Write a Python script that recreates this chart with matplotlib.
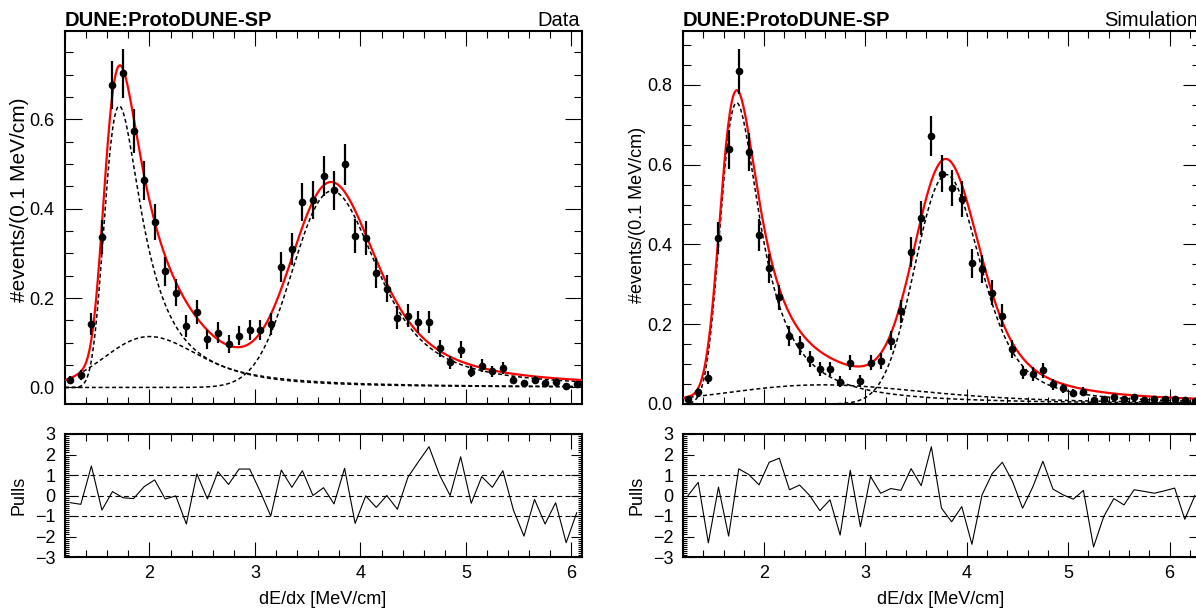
import numpy as np
import matplotlib.pyplot as plt
from matplotlib.ticker import MultipleLocator, FormatStrFormatter

plt.rcParams['font.family'] = ['Liberation Sans', 'DejaVu Sans']

# histogram binning (0.1 MeV/cm bins starting at 1.2)
bin_low = 1.2
bin_width = 0.1

# ---- Data (left panel) ----
data_y = [0.017, 0.028, 0.142, 0.337, 0.677, 0.703, 0.575, 0.464, 0.370, 0.260,
          0.212, 0.138, 0.168, 0.108, 0.123, 0.097, 0.116, 0.129, 0.129, 0.142,
          0.269, 0.310, 0.415, 0.420, 0.473, 0.441, 0.500, 0.340, 0.335, 0.256,
          0.221, 0.156, 0.161, 0.146, 0.146, 0.088, 0.056, 0.084, 0.035, 0.049,
          0.036, 0.043, 0.017, 0.009, 0.017, 0.009, 0.013, 0.004, 0.007]
data_err = [0.0085, 0.011, 0.0245, 0.038, 0.0535, 0.0545, 0.049, 0.044, 0.040, 0.033,
            0.030, 0.024, 0.027, 0.021, 0.023, 0.020, 0.022, 0.023, 0.023, 0.0245,
            0.034, 0.036, 0.042, 0.042, 0.045, 0.043, 0.046, 0.038, 0.038, 0.033,
            0.0305, 0.026, 0.026, 0.025, 0.025, 0.019, 0.015, 0.019, 0.012, 0.014,
            0.012, 0.0135, 0.0085, 0.006, 0.0085, 0.006, 0.0075, 0.004, 0.0055]
data_pulls = [-0.35, -0.43, 1.44, -0.71, 0.19, -0.11, -0.15, 0.43, 0.76, -0.17,
              -0.02, -1.39, 1.05, -0.17, 1.16, 0.54, 1.29, 1.29, 0.2, -1.0,
              1.24, 0.40, 1.21, 0.0, 0.38, -0.41, 1.33, -1.36, -0.02, -0.58,
              0.0, -0.67, 0.89, 1.65, 2.38, 1.0, 0.0, 1.89, -0.38, 0.92,
              0.40, 1.21, -0.71, -1.98, -0.19, -1.39, -0.35, -2.3, -0.84]

# ---- Simulation (right panel) ----
sim_y = [0.012, 0.029, 0.066, 0.416, 0.638, 0.834, 0.631, 0.424, 0.340, 0.267,
         0.171, 0.147, 0.113, 0.088, 0.088, 0.056, 0.104, 0.058, 0.104, 0.108,
         0.159, 0.232, 0.381, 0.466, 0.671, 0.577, 0.541, 0.514, 0.353, 0.338,
         0.279, 0.221, 0.138, 0.079, 0.075, 0.084, 0.049, 0.039, 0.028, 0.031,
         0.011, 0.013, 0.017, 0.013, 0.017, 0.009, 0.013, 0.013, 0.013, 0.009,
         0.008]
sim_err = [0.0067, 0.0104, 0.0157, 0.039, 0.049, 0.056, 0.048, 0.040, 0.036, 0.0315,
           0.025, 0.023, 0.0205, 0.018, 0.018, 0.0145, 0.0197, 0.0147, 0.0197, 0.020,
           0.024, 0.029, 0.038, 0.042, 0.050, 0.046, 0.045, 0.044, 0.036, 0.035,
           0.032, 0.029, 0.023, 0.017, 0.017, 0.018, 0.0135, 0.012, 0.010, 0.011,
           0.0064, 0.007, 0.008, 0.007, 0.008, 0.0058, 0.007, 0.007, 0.007, 0.0058,
           0.0055]
sim_pulls = [0.0, 0.64, -2.31, 0.41, -1.98, 1.30, 1.02, 0.52, 1.62, 1.82,
             0.28, 0.51, 0.0, -0.74, -0.21, -1.93, 1.23, -1.52, 0.93, 0.11,
             0.34, 0.25, 1.31, 0.48, 2.38, -0.62, -1.28, -0.54, -2.38, 0.03,
             1.07, 1.62, 0.69, -0.62, 0.41, 1.67, 0.31, 0.03, -0.18, 0.25,
             -2.51, -1.03, -0.15, -0.46, 0.28, 0.20, 0.11, 0.23, 0.36, -1.16,
             0.0]

# fit components: (location, landau width, gauss width, peak height)
data_components = [(1.72, 0.10, 0.06, 0.63),
                   (1.90, 0.14, 0.34, 0.114),
                   (3.64, 0.12, 0.30, 0.44)]
sim_components = [(1.72, 0.10, 0.09, 0.755),
                  (2.35, 0.30, 0.75, 0.048),
                  (3.72, 0.07, 0.27, 0.575)]


def langaus(x, mpv, eta, sig):
    # Landau (width eta) convolved with a Gaussian (width sig), via its characteristic function
    a = 0.5 * np.pi * eta
    if sig > 0:
        tmax = (-a + np.sqrt(a * a + 60 * sig * sig)) / (sig * sig)
    else:
        tmax = 30 / a
    t = np.linspace(1e-9, tmax, int(tmax / 0.02) + 2)
    damp = np.exp(-a * t - 0.5 * (sig * t) ** 2)
    phase = np.outer(x - mpv, t) + eta * t * np.log(eta * t)
    return np.trapezoid(np.cos(phase) * damp, t, axis=1) / np.pi


def component(x, mpv, eta, sig, amp):
    f = langaus(x, mpv, eta, sig)
    return amp * f / f.max()


W, H = 1196, 610
fig = plt.figure(figsize=(W / 100, H / 100), dpi=100)


def px_axes(l, t, r, b):
    return fig.add_axes([l / W, 1 - b / H, (r - l) / W, (b - t) / H])


def style_axes(ax, ymajor, yminor, ylen, fmt):
    for s in ax.spines.values():
        s.set_linewidth(1.5)
    ax.xaxis.set_major_locator(MultipleLocator(1))
    ax.xaxis.set_minor_locator(MultipleLocator(0.2))
    ax.yaxis.set_major_locator(MultipleLocator(ymajor))
    ax.yaxis.set_minor_locator(MultipleLocator(yminor))
    ax.tick_params(which='both', direction='in', top=True, right=True,
                   width=0.8, labelsize=13)
    ax.tick_params(axis='x', which='major', length=10.8, pad=6)
    ax.tick_params(axis='x', which='minor', length=5)
    ax.tick_params(axis='y', which='major', length=ylen[0], pad=8)
    ax.tick_params(axis='y', which='minor', length=ylen[1])
    if fmt:
        ax.yaxis.set_major_formatter(FormatStrFormatter(fmt))


panels = [
    dict(y=data_y, err=data_err, pulls=data_pulls, comps=data_components,
         xlim=(1.2, 6.1), ylim=(-0.037, 0.798), box=(65, 582), tag='Data',
         ylab=(200, 15)),
    dict(y=sim_y, err=sim_err, pulls=sim_pulls, comps=sim_components,
         xlim=(1.2, 6.3), ylim=(0.0, 0.935), box=(683, 1200), tag='Simulation',
         ylab=(215, 13)),
]

for p in panels:
    l, r = p['box']
    n = len(p['y'])
    xc = bin_low + bin_width * (np.arange(n) + 0.5)
    xf = np.linspace(p['xlim'][0], p['xlim'][1], 600)

    ax = px_axes(l, 31, r, 404)
    total = np.zeros_like(xf)
    for c in p['comps']:
        yc = component(xf, *c)
        total += yc
        ax.plot(xf, yc, color='black', lw=1.1, ls=(0, (2.6, 1.8)), zorder=2)
    ax.plot(xf, total, color='red', lw=1.6, zorder=3)
    ax.errorbar(xc, p['y'], yerr=p['err'], fmt='o', color='black', ms=4.5,
                elinewidth=1.6, capsize=0, zorder=4)
    ax.set_xlim(*p['xlim'])
    ax.set_ylim(*p['ylim'])
    style_axes(ax, 0.2, 0.05, (12, 6), '%.1f')
    ax.tick_params(axis='x', labelbottom=False)
    fig.text(l / W, 1 - 26 / H, 'DUNE:ProtoDUNE-SP',
             fontsize=14.5, fontweight='bold', ha='left', va='baseline')
    fig.text((l + 515) / W, 1 - 26 / H, p['tag'],
             fontsize=14.5, ha='right', va='baseline')
    fig.text((l - 45) / W, 1 - p['ylab'][0] / H, '#events/(0.1 MeV/cm)',
             rotation=90, ha='center', va='center', fontsize=p['ylab'][1])

    axp = px_axes(l, 434, r, 557)
    for h in (-1, 0, 1):
        axp.axhline(h, color='black', lw=0.8, ls=(0, (4.5, 3)), zorder=1)
    axp.plot(xc, p['pulls'], color='black', lw=0.8, zorder=2)
    axp.set_xlim(*p['xlim'])
    axp.set_ylim(-3, 3)
    style_axes(axp, 1, 0.1, (8, 3), None)
    axp.tick_params(axis='y', which='major', pad=7)
    fig.text((l - 46) / W, 1 - 495 / H, 'Pulls', rotation=90,
             ha='center', va='center', fontsize=13)
    fig.text((l + 258) / W, 1 - 600 / H, 'dE/dx [MeV/cm]',
             ha='center', va='center', fontsize=13)

fig.savefig('out.png', dpi=100)
